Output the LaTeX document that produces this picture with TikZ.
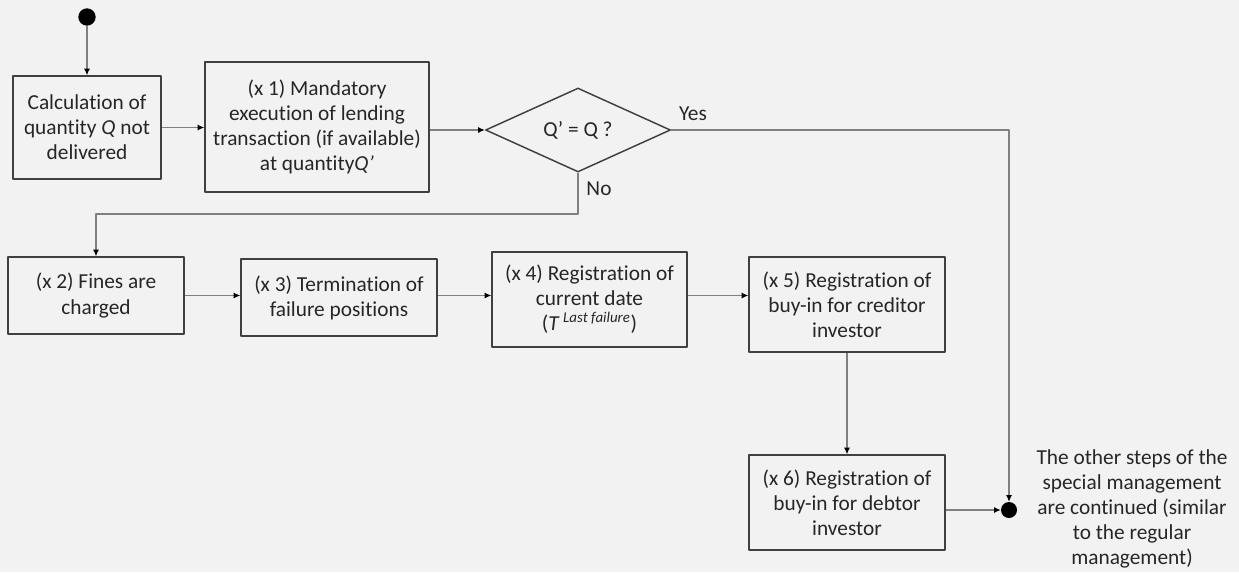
\documentclass[tikz,border=0pt]{standalone}
\usepackage{fontspec}
\setmainfont{Carlito}[Ligatures={NoCommon}]
\usetikzlibrary{shapes.geometric, arrows.meta}
\definecolor{bggray}{HTML}{F2F2F2}
\definecolor{boxline}{HTML}{404040}
\definecolor{flowline}{HTML}{808080}
\definecolor{txt}{HTML}{262626}
\begin{document}
\begin{tikzpicture}[x=0.75pt, y=-0.75pt, line join=round,
        font=\fontsize{16pt}{18.8pt}\selectfont,
        box/.style={draw=boxline, line width=1.1pt, text=txt, align=center, inner sep=2pt},
        decision/.style={diamond, shape aspect=2.2, draw=boxline, line width=1.1pt, text=txt, inner sep=0pt,
            minimum width=138.75pt, minimum height=63pt},
        dot/.style={circle, fill=black, inner sep=0pt, minimum size=13pt},
        lbl/.style={text=txt, inner sep=0pt},
        flow/.style={draw=flowline, line width=0.8pt, -{Latex[black, length=5pt, width=4.5pt]}}]
                \useasboundingbox (0,0) rectangle (1239,572);
                \fill[bggray] (0,0) rectangle (1239,572);
                % first row
                \node[dot] (start) at (87,17) {};
                \node[box, minimum width=111pt, minimum height=77.25pt] (calc) at (87,127.5)
                    {Calculation of\\quantity \textit{Q} not\\delivered};
                \node[box, minimum width=168pt, minimum height=97.5pt] (exec) at (317,127)
                    {(x 1) Mandatory\\execution of lending\\transaction (if available)\\at quantity\textit{Q’}};
                \node[decision] (check) at (578,130) {Q’ = Q ?};
                \node[lbl] (yes) at (693,114) {Yes};
                \node[lbl] (no) at (599,189) {No};
                \coordinate (noturn) at (578,214);
                % second row
                \node[box, minimum width=132pt, minimum height=57.75pt] (fines) at (96,295.5)
                    {(x 2) Fines are\\charged};
                \node[box, minimum width=147pt, minimum height=57.75pt] (term) at (339,297.5)
                    {(x 3) Termination of\\failure positions};
                \node[box, minimum width=146.25pt, minimum height=71.25pt] (regdate) at (589.5,299.5)
                    {(x 4) Registration of\\current date\\(\textit{T}\,\textsuperscript{\textit{Last failure}})};
                \node[box, minimum width=147pt, minimum height=71.25pt] (creditor) at (847,304.5)
                    {(x 5) Registration of\\buy-in for creditor\\investor};
                \node[box, minimum width=147pt, minimum height=71.25pt] (debtor) at (847,502.5)
                    {(x 6) Registration of\\buy-in for debtor\\investor};
                \node[dot, minimum size=12pt] (stop) at (1009,510) {};
                \node[lbl, align=center] (note) at (1132,509)
                    {The other steps of the\\special management\\are continued (similar\\to the regular\\management)};
                % connectors
                \draw[flow] (start) -- (calc);
                \draw[flow] (calc.east) -- (exec.west |- calc.east);
                \draw[flow] (exec.east |- check.west) -- (check.west);
                \draw[flow] (check.east) -| (stop);
                \draw[flow] (check.south) -- (noturn) -| (fines.north);
                \foreach \from/\to in {fines/term, term/regdate, regdate/creditor}
                    \draw[flow] (\from.east |- fines.east) -- (\to.west |- fines.east);
                \draw[flow] (creditor) -- (debtor);
                \draw[flow] (debtor.east |- stop) -- (stop);
            \end{tikzpicture}
\end{document}
